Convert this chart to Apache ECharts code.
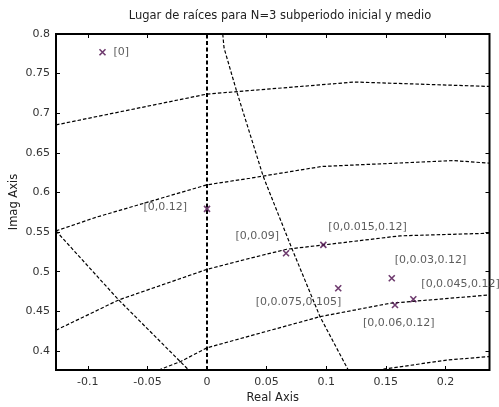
<!DOCTYPE html>
<html>
<head>
<meta charset="utf-8">
<script src="https://cdn.jsdelivr.net/npm/echarts@6/dist/echarts.min.js"></script>
<style>html,body{margin:0;padding:0;background:#fff}#c{width:499px;height:407px}</style>
</head>
<body>
<div id="c"></div>
<script>
// ---- data (real, imag) ----
const titleText = 'Lugar de raíces para N=3 subperiodo inicial y medio';
const xTicks = [-0.1, -0.05, 0, 0.05, 0.1, 0.15, 0.2];
const yTicks = [0.4, 0.45, 0.5, 0.55, 0.6, 0.65, 0.7, 0.75, 0.8];
const xRange = [-0.1267, 0.237];
const yRange = [0.376, 0.8];

const branchA = [[0.0132,0.8],[0.0143,0.7823],[0.0249,0.7275],[0.0472,0.6201],[0.0711,0.5297],[0.0948,0.4433],[0.1185,0.376]];
const branchB = [[-0.1267,0.6853],[0,0.7242],[0.124,0.7394],[0.237,0.7338]];
const branchC = [[-0.1267,0.5515],[-0.0925,0.569],[0,0.6097],[0.036,0.618],[0.0962,0.6328],[0.2067,0.6403],[0.237,0.637]];
const branchD = [[-0.1267,0.5515],[-0.0741,0.4644],[-0.0154,0.376]];
const branchE = [[-0.1267,0.4262],[-0.0741,0.4644],[0,0.503],[0.036,0.517],[0.0669,0.5284],[0.0976,0.5338],[0.162,0.5453],[0.237,0.5486]];
const branchF = [[-0.0405,0.376],[-0.0224,0.3865],[0,0.404],[0.036,0.419],[0.0948,0.4433],[0.1535,0.4602],[0.237,0.4707]];
const branchG = [[0.148,0.377],[0.201,0.3885],[0.237,0.393]];
const imagAxisX = 0;

const poleLabels = ['[0]','[0,0.12]','[0,0.09]','[0,0.015,0.12]','[0,0.03,0.12]','[0,0.045,0.12]','[0,0.075,0.105]','[0,0.06,0.12]'];
const poleReal = [-0.0877, 0.0, 0.0663, 0.0976, 0.155, 0.1731, 0.1101, 0.1577];
const poleImag = [0.777, 0.5793, 0.5234, 0.5339, 0.4918, 0.4653, 0.4792, 0.458];

// ---- styling ----
const FONT = 'DejaVu Sans';
const labelStyle = [
  {align:'left',  offset:[11,0]},
  {align:'right', offset:[-20,-2]},
  {align:'right', offset:[-7,-17]},
  {align:'left',  offset:[5,-18]},
  {align:'left',  offset:[3,-18]},
  {align:'left',  offset:[8,-15]},
  {align:'right', offset:[3,14]},
  {align:'left',  offset:[-32,18]}
];
const near = (v, arr) => arr.some(t => Math.abs(t - v) < 1e-6);
const fmt = v => String(Math.round(v*1000)/1000);

const branches = [branchA, branchB, branchC, branchD, branchE, branchF, branchG];
const lineSeries = branches.map(b => ({
  type:'line', data:b, symbol:'none', smooth:false, silent:true, clip:true,
  lineStyle:{color:'#000', width:1.2, type:[3.5,2]}
}));

const chart = echarts.init(document.getElementById('c'), null, {renderer:'canvas'});
const axisCommon = {
  type:'value', splitLine:{show:false},
  axisLine:{show:false, onZero:false},
  axisTick:{show:true, inside:true, length:4, lineStyle:{color:'#000', width:1}},
};
chart.setOption({
  animation:false,
  backgroundColor:'#fff',
  title:{text:titleText, left:275, top:5, textAlign:'center',
    textStyle:{fontFamily:FONT, fontSize:11.5, fontWeight:'normal', color:'#222'}},
  grid:{left:56, right:9.5, top:34, bottom:37, show:true, borderColor:'#000', borderWidth:2,
    backgroundColor:'transparent', containLabel:false, outerBoundsMode:'none'},
  xAxis:[
    Object.assign({}, axisCommon, {position:'bottom', min:xRange[0], max:xRange[1], splitNumber:7,
      name:'Real Axis', nameLocation:'middle', nameGap:22, nameMoveOverlap:false,
      nameTextStyle:{fontFamily:FONT, fontSize:11.5, color:'#222'},
      axisLabel:{fontFamily:FONT, fontSize:11, color:'#333', margin:7, showMinLabel:false, showMaxLabel:false,
        formatter:v => near(v, xTicks) ? fmt(v) : ''}}),
    Object.assign({}, axisCommon, {position:'top', min:xRange[0], max:xRange[1], splitNumber:7,
      axisLabel:{show:false}})
  ],
  yAxis:[
    Object.assign({}, axisCommon, {position:'left', min:yRange[0], max:yRange[1], splitNumber:8,
      name:'Imag Axis', nameLocation:'middle', nameGap:36, nameMoveOverlap:false,
      nameTextStyle:{fontFamily:FONT, fontSize:11.5, color:'#222'},
      axisLabel:{fontFamily:FONT, fontSize:11, color:'#333', margin:6, showMinLabel:false,
        formatter:v => near(v, yTicks) ? fmt(v) : ''}}),
    Object.assign({}, axisCommon, {position:'right', min:yRange[0], max:yRange[1], splitNumber:8,
      axisLabel:{show:false}})
  ],
  series: lineSeries.concat([
    {type:'line', data:[], symbol:'none', silent:true,
      markLine:{silent:true, symbol:'none', label:{show:false},
        lineStyle:{color:'#000', width:2, type:[4,2.5]},
        data:[{xAxis:imagAxisX}]}},
    {type:'scatter', silent:true, z:5,
      symbol:'path://M0,0L10,10M10,0L0,10', symbolSize:6,
      itemStyle:{color:'none', borderColor:'#4a0a4a', borderWidth:1.6},
      data: poleReal.map((x,i) => ({
        value:[x, poleImag[i]],
        label:{show:true, formatter:poleLabels[i], position:'inside',
          align:labelStyle[i].align, verticalAlign:'middle', offset:labelStyle[i].offset,
          fontFamily:FONT, fontSize:11, color:'#333'}
      }))
    }
  ])
});
</script>
</body>
</html>
